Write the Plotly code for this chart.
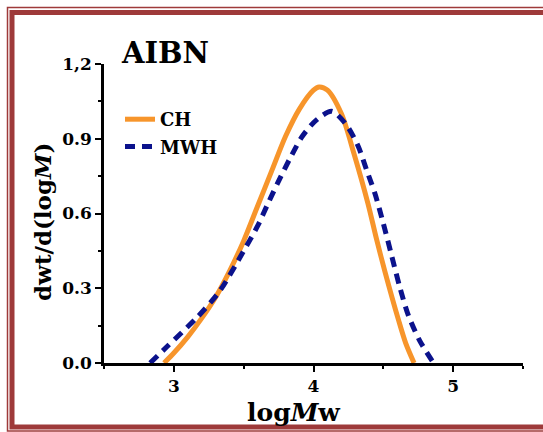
import plotly.graph_objects as go

# ---- data ----
ch_x = [2.93, 3.00, 3.10, 3.20, 3.30, 3.40, 3.50, 3.60, 3.70, 3.80, 3.90, 4.00, 4.04, 4.10, 4.20, 4.29, 4.39, 4.45, 4.51, 4.61, 4.66, 4.72]
ch_y = [0.00, 0.04, 0.105, 0.18, 0.265, 0.37, 0.49, 0.63, 0.77, 0.91, 1.02, 1.095, 1.108, 1.095, 1.00, 0.84, 0.64, 0.50, 0.37, 0.17, 0.08, 0.00]

mwh_x = [2.83, 2.95, 3.17, 3.33, 3.50, 3.60, 3.67, 3.75, 3.84, 3.92, 4.02, 4.13, 4.23, 4.32, 4.38, 4.44, 4.50, 4.56, 4.62, 4.68, 4.76, 4.86]
mwh_y = [0.00, 0.065, 0.185, 0.29, 0.45, 0.55, 0.635, 0.73, 0.83, 0.91, 0.975, 1.01, 0.96, 0.87, 0.775, 0.68, 0.56, 0.43, 0.30, 0.19, 0.09, 0.00]

y_tickvals = [0.0, 0.3, 0.6, 0.9, 1.2]
y_ticktext = ["0.0", "0.3", "0.6", "0.9", "1,2"]
x_tickvals = [3, 4, 5]
x_ticktext = ["3", "4", "5"]

FONT = "DejaVu Serif"
ORANGE = "#F7952B"
NAVY = "#0B128C"
FRAME = "#9E3A3A"

W, H = 543, 432
L, R, T, B = 104, 20, 64, 69
PW, PH = W - L - R, H - T - B

def px(x):
    return (x - L) / PW

def py(y):
    return (H - B - y) / PH

fig = go.Figure()
fig.add_trace(go.Scatter(x=ch_x, y=ch_y, mode="lines", name="CH", legendgroup="a",
                         line=dict(color=ORANGE, width=5, shape="spline", smoothing=0.8)))
fig.add_trace(go.Scatter(x=mwh_x, y=mwh_y, mode="lines", name="MWH", legendgroup="b",
                         line=dict(color=NAVY, width=5, dash="10px,7px", shape="spline", smoothing=0.8)))

axis_common = dict(showline=True, linecolor="black", linewidth=2.5, ticks="outside",
                   ticklen=6, tickwidth=2, tickcolor="black", showgrid=False, zeroline=False,
                   tickfont=dict(family=FONT, size=17, color="black", weight="bold"))

fig.update_xaxes(range=[2.5, 5.5], tickvals=x_tickvals, ticktext=x_ticktext,
                 minor=dict(dtick=0.5, ticks="outside", ticklen=3, tickwidth=2, tickcolor="black"),
                 **axis_common)
fig.update_yaxes(range=[0, 1.2], tickvals=y_tickvals, ticktext=y_ticktext,
                 minor=dict(tickvals=[0.15, 0.45, 0.75, 1.05], ticks="outside", ticklen=3, tickwidth=2, tickcolor="black"),
                 **axis_common)

fig.add_annotation(text="<b>AIBN</b>", xref="paper", yref="paper", x=px(119), y=py(53),
                   xanchor="left", yanchor="middle", showarrow=False,
                   font=dict(family=FONT, size=29, color="black"))
fig.add_annotation(text="<b>dwt/d(log<i>M</i>)</b>", xref="paper", yref="paper", x=px(42), y=py(222),
                   xanchor="center", yanchor="middle", textangle=-90, showarrow=False,
                   font=dict(family=FONT, size=23, color="black"))
fig.add_annotation(text="<b>log<i>M</i>w</b>", xref="paper", yref="paper", x=px(294), y=py(412),
                   xanchor="center", yanchor="middle", showarrow=False,
                   font=dict(family=FONT, size=25, color="black"))

# decorative frame
fig.add_shape(type="rect", xref="paper", yref="paper", x0=px(7.5), x1=px(600), y0=py(431), y1=py(7.5),
              line=dict(color=FRAME, width=1.5), layer="above")
fig.add_shape(type="rect", xref="paper", yref="paper", x0=px(12), x1=px(600), y0=py(427), y1=py(12.5),
              line=dict(color=FRAME, width=5), layer="above")

fig.update_layout(
    width=W, height=H, margin=dict(l=L, r=R, t=T, b=B),
    paper_bgcolor="white", plot_bgcolor="white",
    showlegend=True,
    legend=dict(x=px(120), y=py(101), xanchor="left", yanchor="top", bgcolor="rgba(0,0,0,0)",
                font=dict(family=FONT, size=18, color="black", weight="bold"), tracegroupgap=1,
                itemwidth=30),
)

fig.write_html("out.html")
